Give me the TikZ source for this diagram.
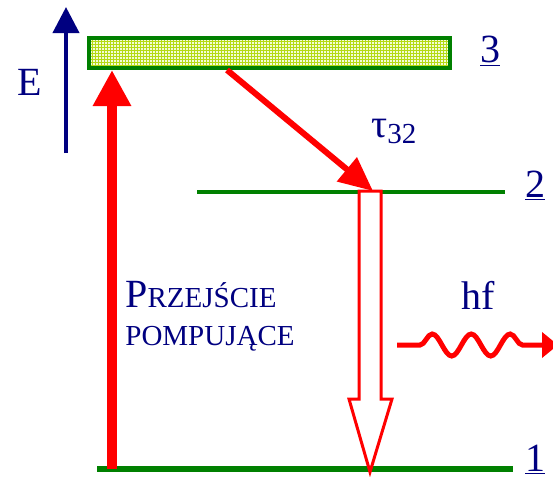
\documentclass[tikz,border=0pt]{standalone}
\usepackage{fontspec}
\setmainfont{Liberation Serif}
\usetikzlibrary{arrows.meta,positioning,decorations.pathmorphing}
\definecolor{navy}{RGB}{0,0,128}
\definecolor{lvlgreen}{RGB}{0,128,0}
\definecolor{gridfill}{RGB}{242,252,215}
\definecolor{gridline}{RGB}{180,218,20}
\newcommand{\bigsz}{\fontsize{20}{24}\selectfont}
\newcommand{\scsz}{\fontsize{14.5}{17}\selectfont}

\begin{document}
\begin{tikzpicture}[x=0.5pt, y=-0.5pt,
  lbl/.style={text=navy, inner sep=0pt, font=\bigsz},
  level/.style={draw=lvlgreen, line width=2pt},
  band/.style={draw=lvlgreen, line width=2pt, fill=gridfill, inner sep=0pt,
    minimum width=180.5pt, minimum height=15pt,
    path picture={\draw[gridline, line width=0.35pt, step=1.5pt]
      (path picture bounding box.south west) grid (path picture bounding box.north east);}},
  pump/.style={draw=red, line width=5pt, -{Triangle[length=18pt, width=18pt]}},
  decay/.style={draw=red, line width=3pt, -{Triangle[length=17pt, width=15pt]}},
  photon/.style={draw=red, line width=2.5pt, -{Triangle[length=8pt, width=12.5pt]}, decorate,
    decoration={snake, segment length=19.5pt, amplitude=5.5pt, pre length=11.5pt, post length=10.5pt}}]
\useasboundingbox (0,0) rectangle (553,477);

% energy axis
\coordinate (ebot) at (66,153);
\coordinate (etop) at (66,7);
\draw[navy, line width=2pt, -{Triangle[length=13pt, width=13pt]}] (ebot) -- (etop);
\node[lbl, anchor=base west] (E) at (17,95) {E};

% levels
\node[band] (lvl3) at (269.5,53) {};
\coordinate (l2a) at (197,192);
\coordinate (l2b) at (505,192);
\coordinate (l1a) at (97,469);
\coordinate (l1b) at (513,469);
\draw[level] (l2a) -- (l2b);
\draw[level, line width=3pt] (l1a) -- (l1b);
\node[lbl, anchor=base west] (n3) at (480,62) {\underline{3}};
\node[lbl, anchor=base west] (n2) at (525,197) {\underline{2}};
\node[lbl, anchor=base west] (n1) at (525,471) {\underline{1}};

% transitions
\coordinate (pbot) at (112,469);
\draw[pump] (pbot) -- (pbot |- lvl3.south);
\coordinate (dtip) at (373,191);
\draw[decay] ([xshift=-21.25pt]lvl3.south) -- (dtip);
\draw[red, line width=1.5pt, fill=white] (359,191) -- (359,399) -- (349,399) -- (370,472)
  -- (392,399) -- (381,399) -- (381,191) -- cycle;
\node[lbl, anchor=base west] (tau) at (371,137) {τ\raisebox{-3pt}{\scsz 32}};

\node[lbl, anchor=base west] (prz) at (125,307) {P{\scsz RZEJŚCIE}};
\node[lbl, anchor=base west, font=\scsz] (pom) at (125,345) {POMPUJĄCE};

% photon
\node[lbl, anchor=base west] (hf) at (461,309) {hf};
\coordinate (wst) at (397,345);
\coordinate (wend) at (558,345);
\draw[photon] (wst) -- (wend);
\end{tikzpicture}
\end{document}
